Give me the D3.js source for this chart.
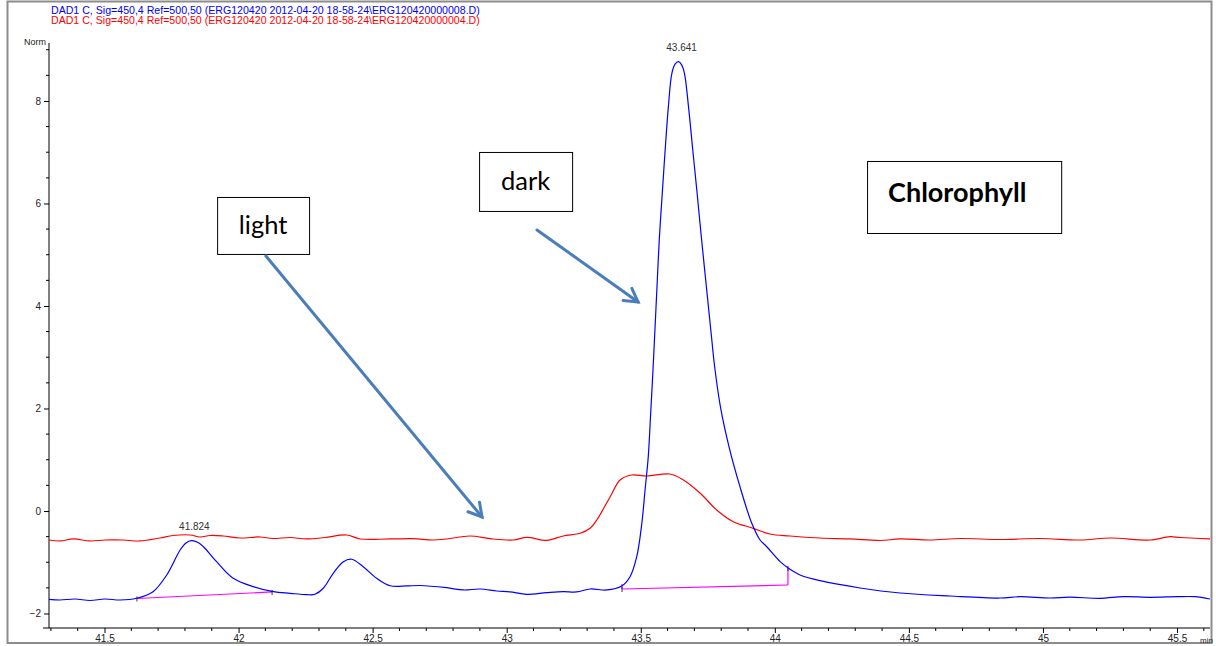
<!DOCTYPE html>
<html>
<head>
<meta charset="utf-8">
<script src="https://cdn.jsdelivr.net/npm/d3@7/dist/d3.min.js"></script>
<style>
  html, body { margin: 0; padding: 0; background: #fff; }
  svg { display: block; }
  .axis text { font-family: "Liberation Sans", Arial, sans-serif; font-size: 10px; fill: #222; }
</style>
</head>
<body>
<svg id="chart" width="1216" height="646"></svg>
<script>
// Retention time (min) and detector signal for the two DAD traces
const blueTime = [41.293,41.334,41.390,41.446,41.502,41.558,41.620,41.681,41.732,41.782,41.804,41.824,41.849,41.869,41.918,41.980,42.055,42.130,42.192,42.254,42.285,42.316,42.353,42.391,42.422,42.465,42.515,42.565,42.627,42.677,42.776,42.838,42.901,42.963,43.012,43.075,43.149,43.211,43.261,43.311,43.373,43.429,43.460,43.485,43.504,43.516,43.528,43.537,43.545,43.551,43.560,43.569,43.581,43.591,43.603,43.616,43.628,43.641,43.653,43.663,43.678,43.694,43.709,43.727,43.746,43.765,43.774,43.797,43.829,43.870,43.914,43.945,43.970,44.020,44.051,44.094,44.169,44.318,44.467,44.654,44.840,44.915,45.027,45.100,45.213,45.300,45.400,45.500,45.567,45.623];
const blueSignal = [-1.723,-1.737,-1.717,-1.746,-1.717,-1.737,-1.703,-1.575,-1.249,-0.761,-0.624,-0.580,-0.615,-0.697,-0.989,-1.313,-1.477,-1.575,-1.606,-1.632,-1.625,-1.508,-1.216,-0.989,-0.942,-1.087,-1.313,-1.458,-1.463,-1.454,-1.497,-1.541,-1.522,-1.561,-1.580,-1.625,-1.594,-1.575,-1.580,-1.522,-1.541,-1.463,-1.282,-0.892,-0.240,0.410,1.060,1.906,2.687,3.337,4.312,5.288,6.263,7.044,7.889,8.540,8.720,8.767,8.700,8.540,7.889,7.044,6.263,5.288,4.312,3.337,2.882,2.035,1.255,0.474,-0.240,-0.566,-0.697,-0.989,-1.118,-1.249,-1.360,-1.502,-1.600,-1.659,-1.698,-1.672,-1.698,-1.680,-1.705,-1.670,-1.684,-1.672,-1.672,-1.717];

const redTime = [41.293,41.334,41.384,41.446,41.502,41.569,41.632,41.707,41.756,41.819,41.856,41.894,41.942,42.005,42.080,42.128,42.192,42.254,42.322,42.403,42.453,42.565,42.651,42.725,42.776,42.863,42.938,43.024,43.075,43.149,43.211,43.274,43.311,43.336,43.386,43.423,43.466,43.522,43.609,43.659,43.722,43.783,43.845,43.920,43.982,44.057,44.169,44.281,44.393,44.467,44.579,44.691,44.840,44.989,45.139,45.251,45.400,45.474,45.511,45.623];
const redSignal = [-0.566,-0.585,-0.546,-0.585,-0.566,-0.566,-0.585,-0.527,-0.478,-0.468,-0.507,-0.478,-0.488,-0.527,-0.507,-0.537,-0.517,-0.546,-0.517,-0.468,-0.546,-0.546,-0.540,-0.566,-0.546,-0.488,-0.540,-0.566,-0.514,-0.572,-0.488,-0.435,-0.338,-0.176,0.279,0.605,0.702,0.683,0.722,0.605,0.345,0.020,-0.209,-0.338,-0.449,-0.488,-0.527,-0.546,-0.576,-0.546,-0.566,-0.537,-0.556,-0.537,-0.566,-0.527,-0.566,-0.502,-0.517,-0.546];

// Labelled peaks (retention time, apex signal) on the blue trace
const peakTimes = [41.824, 43.641];
const peakHeights = [-0.580, 8.767];

// Integration baselines: [start time, start signal, end time, end signal, drop-line top]
const baseStartTime = [41.621, 43.430];
const baseStartSignal = [-1.707, -1.522];
const baseEndTime = [42.125, 44.049];
const baseEndSignal = [-1.580, -1.444];
const baseDropTop = [null, -1.112];

// Axis ticks
const xMajorTicks = [41.5, 42, 42.5, 43, 43.5, 44, 44.5, 45, 45.5];
const yMajorTicks = [-2, 0, 2, 4, 6, 8];

const headerLines = [
  "DAD1 C, Sig=450,4 Ref=500,50 (ERG120420 2012-04-20 18-58-24\\ERG120420000008.D)",
  "DAD1 C, Sig=450,4 Ref=500,50 (ERG120420 2012-04-20 18-58-24\\ERG120420000004.D)"
];

// ---- layout ----
const W = 1216, H = 646;
const plot = { left: 49, right: 1210, top: 43, bottom: 628 };
const BLUE = "#0000ff", RED = "#ff0000", MAGENTA = "#ff00ff", NOTE = "#4a7ebb";

const svg = d3.select("#chart");

const x = d3.scaleLinear().domain([41.293, 45.623]).range([plot.left, plot.right]);
const y = d3.scaleLinear().domain([-2.283, 9.131]).range([plot.bottom, plot.top]);

// outer frame
svg.append("rect")
  .attr("x", 7.5).attr("y", 1.5).attr("width", 1204).attr("height", 641.5)
  .attr("fill", "none").attr("stroke", "#8c8c8c").attr("stroke-width", 2);

// header lines
headerLines.forEach((t, i) => {
  svg.append("text")
    .attr("x", 51).attr("y", 14 + i * 10)
    .attr("font-family", "Liberation Sans, Arial, sans-serif")
    .attr("font-size", 10.6)
    .attr("fill", i === 0 ? BLUE : RED)
    .text(t);
});

// y axis
const yMinor = d3.range(-2, 9.01, 0.5).filter(v => !yMajorTicks.includes(v));
const yAxis = svg.append("g").attr("class", "axis").attr("transform", `translate(${plot.left},0)`);
yAxis.call(d3.axisLeft(y).tickValues(yMajorTicks).tickSize(5).tickPadding(3).tickFormat(d3.format("d")));
yAxis.select(".domain").attr("d", `M0,${plot.top}V${plot.bottom}`).attr("stroke", "#000");
yAxis.selectAll(".tick line").attr("stroke", "#000");
yAxis.selectAll(".minor").data(yMinor).enter().append("line")
  .attr("x1", -3).attr("x2", 0).attr("y1", d => y(d)).attr("y2", d => y(d)).attr("stroke", "#000");

svg.append("text")
  .attr("x", 46).attr("y", 45).attr("text-anchor", "end")
  .attr("font-family", "Liberation Sans, Arial, sans-serif").attr("font-size", 9).attr("fill", "#222")
  .text("Norm");

// x axis
const xMinor = d3.range(41.3, 45.62, 0.1).map(v => Math.round(v * 10) / 10)
  .filter(v => !xMajorTicks.includes(v));
const xAxis = svg.append("g").attr("class", "axis").attr("transform", `translate(0,${plot.bottom})`);
xAxis.call(d3.axisBottom(x).tickValues(xMajorTicks).tickSize(5).tickPadding(2).tickFormat(d => String(d)));
xAxis.select(".domain").attr("d", `M${plot.left - 6},0H${plot.right}`).attr("stroke", "#000");
xAxis.selectAll(".tick line").attr("stroke", "#000");
xAxis.selectAll(".minor").data(xMinor).enter().append("line")
  .attr("x1", d => x(d)).attr("x2", d => x(d)).attr("y1", 0).attr("y2", 3).attr("stroke", "#000");
svg.append("text")
  .attr("x", 1200).attr("y", 643)
  .attr("font-family", "Liberation Sans, Arial, sans-serif").attr("font-size", 8).attr("fill", "#222")
  .text("min");

// traces
svg.append("defs").append("clipPath").attr("id", "plotClip")
  .append("rect").attr("x", plot.left).attr("y", plot.top)
  .attr("width", plot.right - plot.left).attr("height", plot.bottom - plot.top);
const traces = svg.append("g").attr("clip-path", "url(#plotClip)");

const line = d3.line().x(d => x(d[0])).y(d => y(d[1])).curve(d3.curveCatmullRom.alpha(0.5));

traces.append("path")
  .datum(redTime.map((t, i) => [t, redSignal[i]]))
  .attr("d", line).attr("fill", "none").attr("stroke", RED).attr("stroke-width", 1.2);

// integration baselines
baseStartTime.forEach((t0, i) => {
  const g = traces.append("g");
  g.append("line")
    .attr("x1", x(t0)).attr("y1", y(baseStartSignal[i]))
    .attr("x2", x(baseEndTime[i])).attr("y2", y(baseEndSignal[i]))
    .attr("stroke", MAGENTA).attr("stroke-width", 1.2);
  if (baseDropTop[i] !== null) {
    g.append("line")
      .attr("x1", x(baseEndTime[i])).attr("y1", y(baseEndSignal[i]))
      .attr("x2", x(baseEndTime[i])).attr("y2", y(baseDropTop[i]))
      .attr("stroke", MAGENTA).attr("stroke-width", 1.2);
    g.append("line")
      .attr("x1", x(t0)).attr("y1", y(baseStartSignal[i]))
      .attr("x2", x(t0)).attr("y2", y(baseStartSignal[i]) - 5)
      .attr("stroke", MAGENTA).attr("stroke-width", 1.2);
  }
  // start / end markers
  [[t0, baseStartSignal[i]], [baseEndTime[i], baseDropTop[i] !== null ? baseDropTop[i] : baseEndSignal[i]]]
    .forEach(p => {
      g.append("line")
        .attr("x1", x(p[0])).attr("x2", x(p[0]))
        .attr("y1", y(p[1]) - 2).attr("y2", y(p[1]) + 3)
        .attr("stroke", "#333").attr("stroke-width", 1);
    });
});

traces.append("path")
  .datum(blueTime.map((t, i) => [t, blueSignal[i]]))
  .attr("d", line).attr("fill", "none").attr("stroke", BLUE).attr("stroke-width", 1.2);

// peak retention-time labels
peakTimes.forEach((t, i) => {
  svg.append("text")
    .attr("x", x(t) + 3).attr("y", y(peakHeights[i]) - 11)
    .attr("text-anchor", "middle")
    .attr("font-family", "Liberation Sans, Arial, sans-serif").attr("font-size", 10).attr("fill", "#333")
    .text(t.toFixed(3));
});

// ---- callouts (placed in chart coordinates) ----
const callouts = [
  { text: "light", bold: false, size: 25.5, box: [41.920, 42.263, 6.127, 5.015], dy: 9 },
  { text: "dark", bold: false, size: 25.5, box: [42.897, 43.244, 7.005, 5.854], dy: 9 },
  { text: "Chlorophyll", bold: true, size: 27, box: [44.344, 45.068, 6.829, 5.424], dy: 5 }
];
const arrows = [
  [42.102, 4.976, 42.908, -0.117],
  [43.113, 5.483, 43.490, 4.078]
];

const notes = svg.append("g");
callouts.forEach(c => {
  const [t0, t1, v0, v1] = c.box;
  notes.append("rect")
    .attr("x", x(t0) + 0.5).attr("y", y(v0) + 0.5)
    .attr("width", x(t1) - x(t0)).attr("height", y(v1) - y(v0))
    .attr("fill", "#fff").attr("stroke", "#000").attr("stroke-width", 1);
  notes.append("text")
    .attr("x", c.bold ? x(t0) + 21 : (x(t0) + x(t1)) / 2)
    .attr("y", (y(v0) + y(v1)) / 2 + c.dy)
    .attr("text-anchor", c.bold ? "start" : "middle")
    .attr("font-family", "Lato, 'Open Sans', sans-serif")
    .attr("font-size", c.size)
    .attr("font-weight", c.bold ? 700 : 400)
    .attr("fill", "#000")
    .text(c.text);
});

arrows.forEach(a => {
  const x1 = x(a[0]), y1 = y(a[1]), x2 = x(a[2]), y2 = y(a[3]);
  const ang = Math.atan2(y2 - y1, x2 - x1);
  const len = 15, spread = Math.PI / 6;
  const head = [ang + Math.PI - spread, ang + Math.PI + spread]
    .map(b => [x2 + len * Math.cos(b), y2 + len * Math.sin(b)]);
  notes.append("line")
    .attr("x1", x1).attr("y1", y1).attr("x2", x2).attr("y2", y2)
    .attr("stroke", NOTE).attr("stroke-width", 3).attr("stroke-linecap", "round");
  notes.append("path")
    .attr("d", `M${head[0][0]},${head[0][1]}L${x2},${y2}L${head[1][0]},${head[1][1]}`)
    .attr("fill", "none").attr("stroke", NOTE).attr("stroke-width", 3)
    .attr("stroke-linecap", "round").attr("stroke-linejoin", "miter");
});
</script>
</body>
</html>
